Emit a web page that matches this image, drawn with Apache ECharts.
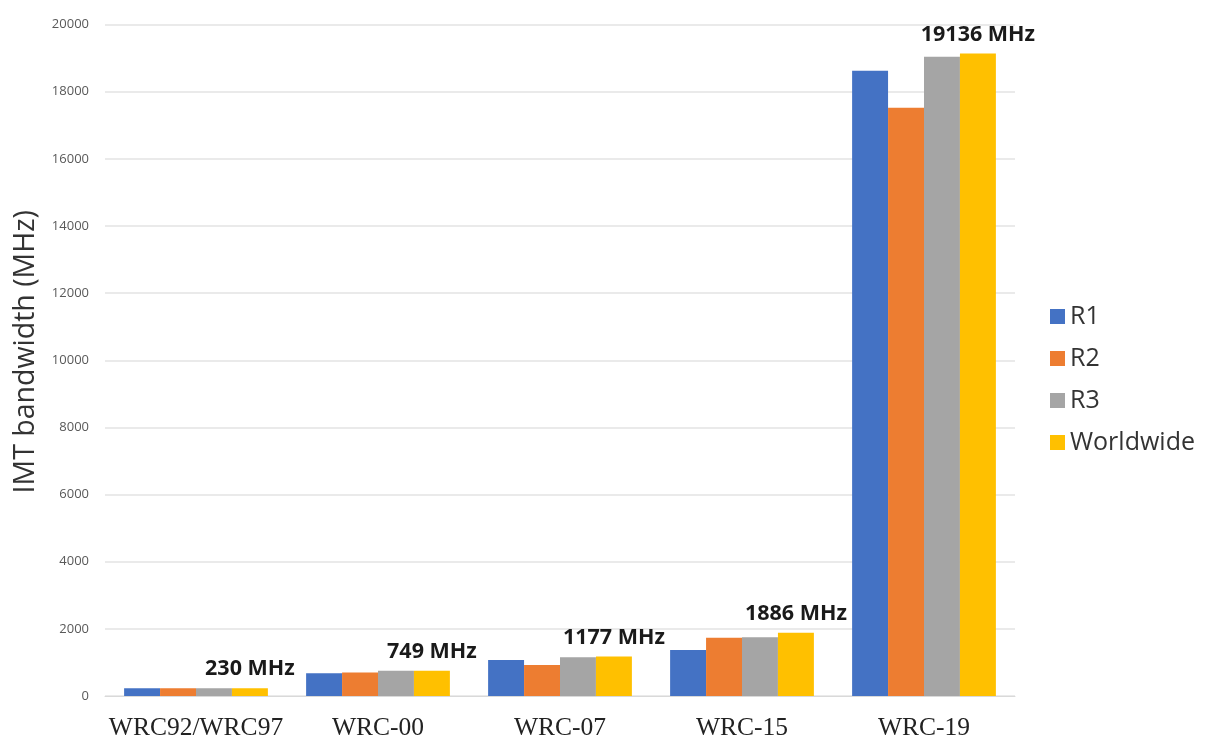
<!DOCTYPE html>
<html>
<head>
<meta charset="utf-8">
<script src="https://cdn.jsdelivr.net/npm/echarts@6/dist/echarts.min.js"></script>
<style>
  html, body { margin: 0; padding: 0; background: #fff; }
  #chart { width: 1210px; height: 736px; }
</style>
</head>
<body>
<div id="chart"></div>
<script>
// IMT spectrum identified at each World Radiocommunication Conference
const conferences = ['WRC92/WRC97', 'WRC-00', 'WRC-07', 'WRC-15', 'WRC-19'];
const r1 = [230, 680, 1073, 1371, 18620];
const r2 = [230, 700, 925, 1737, 17517];
const r3 = [230, 749, 1153, 1750, 19037];
const worldwide = [230, 749, 1177, 1886, 19136];
const seriesNames = ['R1', 'R2', 'R3', 'Worldwide'];
const seriesColors = ['#4472C4', '#ED7D31', '#A5A5A5', '#FFC000'];
const yTicks = { min: 0, max: 20000, interval: 2000 };
const yAxisTitle = 'IMT bandwidth (MHz)';

const chart = echarts.init(document.getElementById('chart'));

function barSeries(name, data, color, withLabel) {
  return {
    name: name,
    type: 'bar',
    data: data,
    barGap: '0%',
    barCategoryGap: '21%',
    itemStyle: { color: color },
    label: withLabel ? {
      show: true,
      position: 'top',
      distance: 8,
      formatter: p => p.value + ' MHz',
      fontFamily: 'Open Sans',
      fontWeight: 'bold',
      fontSize: 21.5,
      color: '#1a1a1a'
    } : { show: false }
  };
}

chart.setOption({
  animation: false,
  textStyle: { fontFamily: 'Open Sans' },
  grid: {
    left: 105, right: 195, top: 24.5, bottom: 40,
    containLabel: false,
    outerBoundsMode: 'none'
  },
  legend: {
    orient: 'vertical',
    left: 1045,
    top: 299,
    itemWidth: 15,
    itemHeight: 15,
    itemGap: 17,
    icon: 'rect',
    data: seriesNames,
    textStyle: { fontSize: 25, color: '#333', fontFamily: 'Open Sans' }
  },
  xAxis: {
    type: 'category',
    data: conferences,
    axisLine: { lineStyle: { color: '#d9d9d9', width: 1 } },
    axisTick: { show: false },
    axisLabel: {
      interval: 0,
      margin: 19,
      fontFamily: 'Liberation Serif',
      fontSize: 25.5,
      color: '#222'
    }
  },
  yAxis: {
    type: 'value',
    min: yTicks.min,
    max: yTicks.max,
    interval: yTicks.interval,
    axisLine: { show: false },
    axisTick: { show: false },
    splitLine: { lineStyle: { color: '#e3e3e3', width: 1.5 } },
    axisLabel: {
      margin: 16,
      fontSize: 13,
      color: '#595959',
      fontFamily: 'Open Sans',
      formatter: v => String(v)
    }
  },
  graphic: [{
    type: 'text',
    left: 11,
    top: 210,
    rotation: Math.PI / 2,
    style: {
      text: yAxisTitle,
      fontSize: 28.5,
      fontFamily: 'Open Sans',
      fill: '#333'
    }
  }],
  series: [
    barSeries(seriesNames[0], r1, seriesColors[0], false),
    barSeries(seriesNames[1], r2, seriesColors[1], false),
    barSeries(seriesNames[2], r3, seriesColors[2], false),
    barSeries(seriesNames[3], worldwide, seriesColors[3], true)
  ]
});
</script>
</body>
</html>
